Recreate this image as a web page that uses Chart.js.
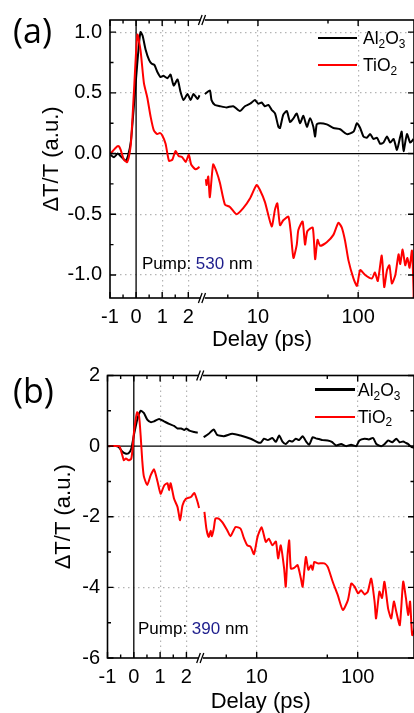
<!DOCTYPE html>
<html>
<head>
<meta charset="utf-8">
<script src="https://cdn.jsdelivr.net/npm/chart.js@4.4.1/dist/chart.umd.min.js"></script>
<style>
  html, body { margin: 0; padding: 0; background: #fff; }
  #page { position: relative; width: 414px; height: 713px; overflow: hidden; font-family: 'Liberation Sans', Arial, sans-serif; color: #000; }
  canvas { position: absolute; left: 0; }
  #chartA { top: 0; }
  #chartB { top: 356px; }
  .panel { position: absolute; left: 13px; font-family: 'Open Sans', sans-serif; font-size: 34px; line-height: 1; }
  .key-line { position: absolute; height: 2.5px; background: #000; }
  .key-line.red { background: #ff0000; }
  .key-text { position: absolute; font-size: 17.5px; line-height: 1; white-space: nowrap; }
  .key-text sub { font-size: 0.68em; vertical-align: baseline; position: relative; top: 0.32em; line-height: 0; }
  .pump { position: absolute; font-size: 17px; line-height: 1; white-space: nowrap; }
  .pump span { color: #1d1d8c; }
</style>
</head>
<body>
<div id="page">
  <canvas id="chartA" width="414" height="356"></canvas>
  <canvas id="chartB" width="414" height="357"></canvas>

  <div class="panel" style="top:12.8px">(a)</div>
  <div class="panel" style="top:372.8px">(b)</div>

  <div class="key-line" style="left:318px; width:39px; top:36.75px"></div>
  <div class="key-text" style="left:363px; top:30.2px">Al<sub>2</sub>O<sub>3</sub></div>
  <div class="key-line red" style="left:318px; width:39px; top:63.75px"></div>
  <div class="key-text" style="left:363px; top:57.2px">TiO<sub>2</sub></div>
  <div class="pump" style="left:142px; top:254.6px">Pump: <span>530</span> nm</div>

  <div class="key-line" style="left:315px; width:40px; top:388px"></div>
  <div class="key-text" style="left:358px; top:381.9px">Al<sub>2</sub>O<sub>3</sub></div>
  <div class="key-line red" style="left:315px; width:40px; top:415.5px"></div>
  <div class="key-text" style="left:358px; top:408.5px">TiO<sub>2</sub></div>
  <div class="pump" style="left:138px; top:619.6px">Pump: <span>390</span> nm</div>
</div>
<script>
// Ticks
const xMajorTicks = [-1, 0, 1, 2, 10, 100];
const xMinorTicks = [-0.5, 0.5, 1.5, 5, 50];
const aYMajor = [-1, -0.5, 0, 0.5, 1];
const aYMinor = [-0.75, -0.25, 0.25, 0.75];
const bYMajor = [-6, -4, -2, 0, 2];
const bYMinor = [-5, -3, -1, 1];

// Panel (a): pump 530 nm
const aAlDelay = [-0.98, -0.85, -0.7, -0.6, -0.5, -0.4, -0.3, -0.2, -0.1, 0, 0.1, 0.17, 0.25, 0.36, 0.5, 0.6, 0.7, 0.82, 0.94, 1.05,
  1.2, 1.32, 1.44, 1.59, 1.7, 1.82, 1.97, 2.09, 2.2, 2.36, 2.43,
  2.95, 3.31, 3.44, 3.72, 4.17, 4.86, 5.66, 6.6, 7.41, 8.32, 9.33, 10.08, 10.9, 11.7, 12.7, 13.7, 14.8, 16.0, 16.6, 17.9,
  19.4, 20.9, 22.6, 24.4, 26.3, 28.4, 30.8, 33.1, 35.7, 37.2, 38.6, 41.7, 48.6, 56.6, 66.1, 77.1, 89.9, 97.3, 104.7, 113,
  122, 132, 142, 154, 166, 179, 194, 209, 226, 244, 263, 272, 284, 307, 331, 357];
const aAlSignal = [-0.01, -0.03, 0, -0.02, -0.04, -0.06, -0.01, 0.1, 0.35, 0.62, 0.88, 1.0, 0.97, 0.86, 0.77, 0.74, 0.73, 0.67, 0.63, 0.64,
  0.62, 0.65, 0.56, 0.61, 0.51, 0.44, 0.49, 0.44, 0.49, 0.45, 0.48,
  0.49, 0.52, 0.44, 0.40, 0.39, 0.38, 0.39, 0.35, 0.39, 0.41, 0.44, 0.41, 0.42, 0.39, 0.40, 0.36, 0.33, 0.22, 0.21, 0.32,
  0.35, 0.26, 0.29, 0.33, 0.25, 0.31, 0.22, 0.29, 0.22, 0.14, 0.24, 0.25, 0.24, 0.21, 0.20, 0.16, 0.18, 0.25, 0.21, 0.14,
  0.13, 0.16, 0.12, 0.13, 0.08, 0.09, 0.14, 0.09, 0.12, 0.03, 0.14, 0.18, 0.02, 0.16, 0.09, 0.12];
const aTiDelay = [-0.98, -0.72, -0.66, -0.59, -0.47, -0.34, -0.21, -0.15, -0.08, 0.05, 0.17, 0.3, 0.43, 0.56, 0.68, 0.81, 0.91, 1.0,
  1.13, 1.26, 1.39, 1.51, 1.63, 1.77, 1.9, 2.02, 2.11, 2.28, 2.43,
  3.02, 3.07, 3.19, 3.31, 3.57, 3.86, 4.17, 4.68, 5.25, 6.12, 7.13, 8.32, 9.7, 10.47, 11.75, 13.7, 14.8, 15.6, 16.6, 17.9,
  20.1, 21.2, 22.6, 24.4, 25.3, 27.9, 29.5, 31.1, 35.2, 37.2, 39.3, 41.7, 48.6, 56.6, 63.5, 68.7, 74.1, 80, 89.9, 97.3,
  104.7, 117.5, 137, 147, 157, 172, 182, 194, 205, 217, 235, 253, 263, 278, 295, 310, 326, 344, 357, 358.5];
const aTiSignal = [0, 0.06, 0.06, 0.03, -0.05, -0.07, 0.06, 0.25, 0.52, 0.98, 0.85, 0.58, 0.46, 0.3, 0.19, 0.16, 0.17, 0.15,
  0.08, -0.06, -0.05, 0.02, -0.02, -0.03, -0.07, -0.01, -0.09, -0.13, -0.11,
  -0.21, -0.26, -0.19, -0.36, -0.09, -0.15, -0.24, -0.42, -0.44, -0.5, -0.45, -0.37, -0.26, -0.3, -0.4, -0.6, -0.46, -0.41, -0.59, -0.55,
  -0.52, -0.64, -0.86, -0.75, -0.63, -0.56, -0.75, -0.64, -0.61, -0.87, -0.71, -0.76, -0.73, -0.67, -0.57, -0.61, -0.72, -0.88, -1.03, -1.09,
  -0.96, -1.0, -1.03, -0.98, -1.05, -0.84, -1.1, -0.96, -0.92, -1.07, -1.0, -0.83, -0.91, -0.79, -0.92, -0.86, -0.94, -0.8, -1.13, -1.35];

// Panel (b): pump 390 nm
const bAlDelay = [-0.96, -0.7, -0.57, -0.44, -0.32, -0.2, -0.1, 0, 0.13, 0.26, 0.38, 0.51, 0.64, 0.77, 0.96, 1.15, 1.34, 1.53, 1.66, 1.8,
  1.92, 2.0, 2.11, 2.3, 2.43,
  2.99, 3.35, 3.76, 4.06, 4.73, 5.73, 6.93, 8.72, 10.2, 11.0, 11.8, 12.9, 14.3, 15.5, 16.7, 18.0, 19.4, 21.0, 22.6, 24.4,
  26.3, 28.5, 30.7, 33.1, 35.8, 38.5, 41.5, 45, 50.5, 55.5, 61.1, 68.5, 76.8, 86, 96.7, 104, 117, 129, 142, 153,
  171, 185, 200, 220, 241, 260, 282, 300, 316, 342, 372];
const bAlSignal = [0, 0, -0.03, -0.15, -0.21, -0.2, -0.08, 0.3, 0.75, 1.0, 0.94, 0.75, 0.68, 0.7, 0.77, 0.7, 0.63, 0.57, 0.5, 0.5,
  0.46, 0.5, 0.44, 0.4, 0.38,
  0.25, 0.35, 0.47, 0.32, 0.28, 0.35, 0.3, 0.21, 0.11, 0.1, 0.21, 0.17, 0.23, 0.12, 0.3, 0.13, 0.06, 0.15, 0.13, 0.21,
  0.17, 0.28, 0.14, 0.04, 0.25, 0.22, 0.2, 0.17, 0.16, 0.12, 0.02, 0.06, 0, 0.04, 0, 0.16, 0.21, 0.19, 0.23, 0.06,
  0, 0.06, 0.16, 0.11, 0.21, 0.11, 0.13, 0.09, 0.06, -0.03, -0.05];
const bTiDelay = [-0.96, -0.55, -0.5, -0.44, -0.38, -0.3, -0.2, -0.1, -0.05, 0, 0.08, 0.13, 0.2, 0.26, 0.32, 0.38, 0.51, 0.64, 0.77, 0.9,
  1.02, 1.15, 1.28, 1.34, 1.4, 1.53, 1.66, 1.76, 1.85, 1.98, 2.17, 2.3, 2.43, 2.48,
  3.04, 3.18, 3.35, 3.5, 3.6, 3.76, 3.91, 4.21, 4.56, 5.11, 5.51, 6.18, 6.93, 7.47, 8.08, 8.72, 9.4, 10.2, 11.2, 12.3,
  13.2, 14.3, 15.5, 16.3, 17.3, 18.7, 19.4, 20.2, 21.0, 21.8, 23.5, 25.4, 27.4, 28.5, 30.7, 32.5, 34.5, 35.8, 37.2, 40.2,
  46.7, 50.5, 56.6, 63.5, 71.3, 80, 86.4, 93.2, 101, 108, 117, 126, 136, 147, 152, 164, 174, 184, 200, 215,
  228, 241, 261, 282, 300, 316, 330, 346, 367];
const bTiSignal = [0, 0, -0.1, -0.25, -0.4, -0.35, -0.4, -0.36, -0.1, 0.35, 0.8, 0.96, 0.85, 0.3, -0.4, -0.85, -1.1, -0.83, -0.66, -1.0,
  -1.35, -1.12, -1.05, -1.25, -1.05, -1.49, -1.72, -2.1, -1.68, -1.49, -1.44, -1.33, -1.6, -1.75,
  -1.86, -2.34, -2.57, -2.4, -2.55, -2.34, -2.05, -2.05, -2.15, -2.38, -2.55, -2.29, -2.34, -2.6, -2.81, -2.85, -3.06, -2.57, -2.3, -2.71,
  -2.62, -2.81, -2.7, -3.18, -2.81, -3.47, -3.98, -3.09, -2.67, -3.47, -3.45, -3.37, -3.75, -3.98, -3.14, -3.5, -3.37, -3.5, -3.28, -3.32,
  -3.32, -3.42, -3.84, -4.22, -4.64, -4.36, -3.89, -3.98, -4.17, -4.08, -4.2, -4.12, -3.75, -4.41, -4.88, -4.12, -4.3, -3.84, -4.6, -4.88,
  -4.4, -4.69, -5.07, -3.84, -4.3, -4.78, -4.4, -5.35, -5.16];

// broken x axis: linear up to LIN_END, log10 after the break
const LIN_END = 2.5;
const U10 = 4.67;      // axis position of 10 ps
const DECADE = 3.84;   // axis units per decade
const X_MAX = 10.65;

function toAxis(t) {
  return t <= LIN_END ? t : U10 + DECADE * (Math.log10(t) - 1);
}

function series(delays, values) {
  const pts = [];
  delays.forEach((t, i) => {
    if (i > 0 && delays[i - 1] <= LIN_END && t > LIN_END) {
      pts.push({ x: (toAxis(delays[i - 1]) + toAxis(t)) / 2, y: null });
    }
    pts.push({ x: toAxis(t), y: values[i] });
  });
  return pts;
}

Chart.defaults.font.family = "'Liberation Sans', Arial, sans-serif";
Chart.defaults.color = '#000';

// zero lines, inward tick marks, frame and axis break
const axisDecor = {
  id: 'axisDecor',
  beforeDatasetsDraw(chart) {
    const { ctx, chartArea: a, scales: { x, y } } = chart;
    const x0 = x.getPixelForValue(toAxis(0));
    const y0 = y.getPixelForValue(0);
    ctx.save();
    ctx.strokeStyle = '#000';
    ctx.lineWidth = 1.3;
    ctx.beginPath();
    ctx.moveTo(x0, a.top); ctx.lineTo(x0, a.bottom);
    ctx.moveTo(a.left, y0); ctx.lineTo(a.right, y0);
    ctx.stroke();
    ctx.restore();
  },
  afterDraw(chart, args, opts) {
    const { ctx, chartArea: a, scales: { x, y } } = chart;
    ctx.save();
    ctx.strokeStyle = '#000';
    ctx.lineWidth = 1.4;
    ctx.beginPath();
    const tickX = (list, len) => list.forEach(t => {
      const px = x.getPixelForValue(toAxis(t));
      ctx.moveTo(px, a.bottom); ctx.lineTo(px, a.bottom - len);
      ctx.moveTo(px, a.top); ctx.lineTo(px, a.top + len);
    });
    const tickY = (list, len) => list.forEach(v => {
      const py = y.getPixelForValue(v);
      ctx.moveTo(a.left, py); ctx.lineTo(a.left + len, py);
      ctx.moveTo(a.right, py); ctx.lineTo(a.right - len, py);
    });
    tickX(xMajorTicks, 6);
    tickX(xMinorTicks, 3.5);
    tickY(opts.yMajor, 6);
    tickY(opts.yMinor, 3.5);
    ctx.stroke();
    ctx.lineWidth = 1.6;
    ctx.strokeRect(a.left, a.top, a.right - a.left, a.bottom - a.top);

    // break marks
    const cx = x.getPixelForValue((toAxis(LIN_END) + toAxis(2.9)) / 2);
    [a.top, a.bottom].forEach(yy => {
      ctx.fillStyle = '#fff';
      ctx.fillRect(cx - 2, yy - 2, 4, 4);
      ctx.lineWidth = 1.3;
      ctx.beginPath();
      ctx.moveTo(cx - 4.3, yy + 5); ctx.lineTo(cx - 0.6, yy - 5);
      ctx.moveTo(cx - 0.9, yy + 5); ctx.lineTo(cx + 2.8, yy - 5);
      ctx.stroke();
    });
    ctx.restore();
  }
};

function makePanel(id, cfg) {
  const xTickList = xMajorTicks.concat(xMinorTicks).sort((p, q) => p - q);
  const yTickList = cfg.yMajor.concat(cfg.yMinor).sort((p, q) => p - q);
  const dotted = '#b4b4b4';
  return new Chart(document.getElementById(id), {
    type: 'line',
    data: {
      datasets: [
        { label: 'TiO2', data: series(cfg.tiDelay, cfg.tiSignal), borderColor: '#ff0000', borderWidth: 2, pointRadius: 0, tension: 0.2 },
        { label: 'Al2O3', data: series(cfg.alDelay, cfg.alSignal), borderColor: '#000000', borderWidth: 2, pointRadius: 0, tension: 0.2 }
      ]
    },
    options: {
      responsive: false,
      devicePixelRatio: 1,
      animation: false,
      events: [],
      layout: { padding: { top: cfg.top, right: 0, left: 0, bottom: 0 } },
      plugins: {
        legend: { display: false },
        tooltip: { enabled: false },
        axisDecor: { yMajor: cfg.yMajor, yMinor: cfg.yMinor }
      },
      scales: {
        x: {
          type: 'linear',
          min: -1,
          max: X_MAX,
          afterBuildTicks: s => { s.ticks = xTickList.map(t => ({ value: toAxis(t) })); },
          afterFit: s => { s.height = cfg.height - cfg.bottom; },
          ticks: {
            autoSkip: false,
            maxRotation: 0,
            padding: 7,
            font: { size: 20 },
            callback: (v, i) => xMajorTicks.includes(xTickList[i]) ? String(xTickList[i]) : ''
          },
          grid: {
            drawTicks: false,
            lineWidth: 1.2,
            color: c => {
              const t = xTickList[c.index];
              return (xMajorTicks.includes(t) && t !== -1 && t !== 0) ? dotted : 'rgba(0,0,0,0)';
            }
          },
          border: { display: false, dash: [1.5, 3.5] },
          title: { display: true, text: 'Delay (ps)', font: { size: 22, lineHeight: 1 }, padding: { top: 0, bottom: cfg.xTitlePad } }
        },
        y: {
          type: 'linear',
          min: cfg.yMin,
          max: cfg.yMax,
          afterBuildTicks: s => { s.ticks = yTickList.map(v => ({ value: v })); },
          afterFit: s => { s.width = cfg.left; },
          ticks: {
            padding: cfg.yPad,
            font: { size: 20 },
            callback: (v, i) => cfg.yMajor.includes(yTickList[i]) ? cfg.fmt(yTickList[i]) : ''
          },
          grid: {
            drawTicks: false,
            lineWidth: 1.2,
            color: c => {
              const v = yTickList[c.index];
              return (cfg.yMajor.includes(v) && v !== 0 && v !== cfg.yMin && v !== cfg.yMax) ? dotted : 'rgba(0,0,0,0)';
            }
          },
          border: { display: false, dash: [1.5, 3.5] },
          title: { display: true, text: 'ΔT/T (a.u.)', font: { size: 22, lineHeight: 1 }, padding: { top: cfg.yTitlePad, bottom: 0 } }
        }
      }
    },
    plugins: [axisDecor]
  });
}

makePanel('chartA', {
  height: 356, top: 15, bottom: 298, left: 110,
  yMin: -1.19, yMax: 1.1, yMajor: aYMajor, yMinor: aYMinor, yPad: 8,
  fmt: v => v.toFixed(1), xTitlePad: 5, yTitlePad: 41,
  alDelay: aAlDelay, alSignal: aAlSignal, tiDelay: aTiDelay, tiSignal: aTiSignal
});

makePanel('chartB', {
  height: 357, top: 19, bottom: 302, left: 107.5,
  yMin: -6, yMax: 2, yMajor: bYMajor, yMinor: bYMinor, yPad: 7.5,
  fmt: v => String(v), xTitlePad: 0, yTitlePad: 53,
  alDelay: bAlDelay, alSignal: bAlSignal, tiDelay: bTiDelay, tiSignal: bTiSignal
});
</script>
</body>
</html>
